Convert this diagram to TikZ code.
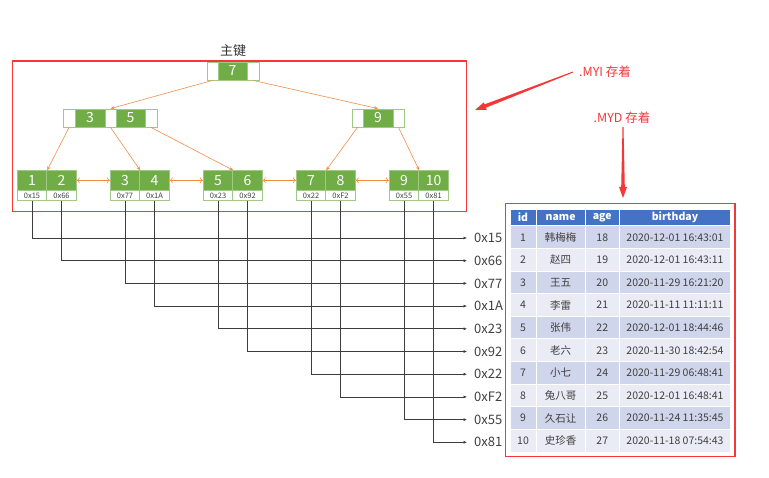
\documentclass[tikz,border=0pt]{standalone}
\usepackage{fontspec}
\setmainfont{Noto Sans CJK SC}
\usetikzlibrary{arrows.meta,calc}

\definecolor{leafgreen}{RGB}{112,173,71}
\definecolor{leafedge}{RGB}{160,200,135}
\definecolor{ptrorange}{RGB}{244,140,70}
\definecolor{linegray}{RGB}{60,60,60}
\definecolor{hdrblue}{RGB}{68,114,196}
\definecolor{rowdark}{RGB}{207,213,234}
\definecolor{rowlight}{RGB}{233,235,245}
\definecolor{framered}{RGB}{245,55,55}
\definecolor{txtgray}{RGB}{64,64,64}

\tikzset{
  keycell/.style={draw=leafedge, fill=leafgreen, text=white, line width=0.8pt,
    minimum width=29.5pt, minimum height=19.3pt, inner sep=0pt,
    font=\fontsize{14}{14}\selectfont},
  addrcell/.style={draw=leafedge, fill=white, text=txtgray, line width=0.8pt,
    minimum width=29.5pt, minimum height=10.7pt, inner sep=0pt,
    font=\fontsize{7.5}{7.5}\selectfont},
  ptrcell/.style={draw=leafedge, fill=white, line width=0.8pt,
    minimum height=18pt, inner sep=0pt},
  innerkey/.style={keycell, minimum height=18pt},
  treeptr/.style={draw=ptrorange, line width=0.6pt, -{Stealth[length=4pt,width=3.5pt]}},
  sibling/.style={draw=ptrorange, line width=0.6pt, {To[length=3pt,width=6pt]}-{To[length=3pt,width=6pt]}},
  rowptr/.style={draw=linegray, line width=0.6pt, -{Latex[length=3.5pt,width=3pt]}},
  addrlabel/.style={anchor=west, inner xsep=7pt, inner ysep=1pt, text=txtgray,
    font=\fontsize{13}{13}\selectfont},
  tcell/.style={draw=white, line width=1pt, minimum height=22.6pt, inner sep=0pt,
    text=txtgray, font=\fontsize{10.5}{10.5}\selectfont},
  hcell/.style={tcell, fill=hdrblue, text=white, minimum height=16.7pt,
    font=\fontsize{10.5}{10.5}\selectfont\bfseries},
  redframe/.style={draw=framered, line width=1.3pt},
  redlabel/.style={text=framered, font=\fontsize{12.5}{12.5}\selectfont, inner sep=1pt},
  redarrow/.style={fill=framered, draw=none}
}

\begin{document}
\begin{tikzpicture}[x=1pt,y=-1pt]
\useasboundingbox (0,0) rectangle (769,478);

% ---------- index file frame ----------
\draw[redframe] (12.3,61) rectangle (466.7,211.7);
\node[font=\fontsize{13}{13}\selectfont, text=txtgray!80!black] (pk) at (233,51) {主键};

% ---------- root node ----------
\node[ptrcell, minimum width=11pt] (rp1) at (212.5,71) {};
\node[innerkey, minimum width=29pt] (r7) at (232.5,71) {7};
\node[ptrcell, minimum width=12pt] (rp2) at (253,71) {};

% ---------- second level ----------
\node[ptrcell, minimum width=12pt] (lp1) at (69,118) {};
\node[innerkey, minimum width=30pt] (l3) at (90,118) {3};
\node[ptrcell, minimum width=11pt] (lp2) at (110.5,118) {};
\node[innerkey, minimum width=29pt] (l5) at (130.5,118) {5};
\node[ptrcell, minimum width=12pt] (lp3) at (151,118) {};

\node[ptrcell, minimum width=11pt] (rq1) at (357.5,118) {};
\node[innerkey, minimum width=30pt] (r9) at (378,118) {9};
\node[ptrcell, minimum width=11pt] (rq2) at (398.5,118) {};

% ---------- leaves ----------
\foreach \i/\ka/\kb/\aa/\ab in {0/1/2/0x15/0x66, 1/3/4/0x77/0x1A,
    2/5/6/0x23/0x92, 3/7/8/0x22/0xF2, 4/9/10/0x55/0x81} {
  \pgfmathsetmacro{\lx}{17.3+93*\i}
  \node[keycell] (k\ka) at (\lx+14.75,180.35) {\ka};
  \node[keycell] (k\kb) at (\lx+44.25,180.35) {\kb};
  \node[addrcell] (a\ka) at (\lx+14.75,195.35) {\aa};
  \node[addrcell] (a\kb) at (\lx+44.25,195.35) {\ab};
}

% ---------- tree pointers ----------
\draw[treeptr] (rp1.south) -- (lp2.north);
\draw[treeptr] (rp2.south) -- (r9.north);
\draw[treeptr] (lp1.south) -- (k1.north east);
\draw[treeptr] (lp2.south) -- (k3.north east);
\draw[treeptr] (lp3.south) -- (k5.north east);
\draw[treeptr] (rq1.south) -- (k7.north east);
\draw[treeptr] (rq2.south) -- (k9.north east);

% ---------- leaf chain ----------
\draw[sibling] (k2.east) -- (k3.west);
\draw[sibling] (k4.east) -- (k5.west);
\draw[sibling] (k6.east) -- (k7.west);
\draw[sibling] (k8.east) -- (k9.west);

% ---------- data addresses ----------
\foreach \i/\ad in {1/0x15, 2/0x66, 3/0x77, 4/0x1A, 5/0x23,
    6/0x92, 7/0x22, 8/0xF2, 9/0x55, 10/0x81} {
  \node[addrlabel] (p\i) at (467,{238+22.7*(\i-1)}) {\ad};
  \draw[rowptr] (a\i.south) |- (p\i.west);
}

% ---------- data file table ----------
\draw[redframe] (505.5,203.3) rectangle (735,456.7);
\node[hcell, minimum width=26pt] (hid) at (523,217.65) {id};
\node[hcell, minimum width=49.3pt] (hname) at (560.65,217.65) {name};
\node[hcell, minimum width=34pt] (hage) at (602.3,217.65) {age};
\node[hcell, minimum width=111.4pt] (hbd) at (675,217.65) {birthday};

\foreach \r/\nm/\ag/\bd/\bg in {
    1/韩梅梅/18/2020-12-01 16:43:01/rowdark,
    2/赵四/19/2020-12-01 16:43:11/rowlight,
    3/王五/20/2020-11-29 16:21:20/rowdark,
    4/李雷/21/2020-11-11 11:11:11/rowlight,
    5/张伟/22/2020-12-01 18:44:46/rowdark,
    6/老六/23/2020-11-30 18:42:54/rowlight,
    7/小七/24/2020-11-29 06:48:41/rowdark,
    8/兔八哥/25/2020-12-01 16:48:41/rowlight,
    9/久石让/26/2020-11-24 11:35:45/rowdark,
    10/史珍香/27/2020-11-18 07:54:43/rowlight} {
  \pgfmathsetmacro{\ry}{226+22.6*(\r-0.5)}
  \node[tcell, fill=\bg, minimum width=26pt] (id\r) at (523,\ry) {\r};
  \node[tcell, fill=\bg, minimum width=49.3pt] (nm\r) at (560.65,\ry) {\nm};
  \node[tcell, fill=\bg, minimum width=34pt] (ag\r) at (602.3,\ry) {\ag};
  \node[tcell, fill=\bg, minimum width=111.4pt] (bd\r) at (675,\ry) {\bd};
}

% ---------- storage callouts ----------
\node[redlabel, anchor=west] (myi) at (578,72) {.MYI 存着};
\node[redlabel] (myd) at (622,118) {.MYD 存着};
\coordinate (myiS) at (573,72);
\coordinate (myiT) at (475,110);
\coordinate (mydS) at (623,127);
\coordinate (mydT) at (623,198);

\foreach \s/\t in {myiS/myiT, mydS/mydT} {
  \coordinate (hb) at ($(\t)!11pt!(\s)$);
  \fill[redarrow]
    ($(\s)!0.5pt!90:(\t)$) -- ($(hb)!1.8pt!-90:(\s)$) -- ($(hb)!4pt!-90:(\s)$)
    -- (\t) -- ($(hb)!4pt!90:(\s)$) -- ($(hb)!1.8pt!90:(\s)$)
    -- ($(\s)!0.5pt!-90:(\t)$) -- cycle;
}
\end{tikzpicture}
\end{document}
